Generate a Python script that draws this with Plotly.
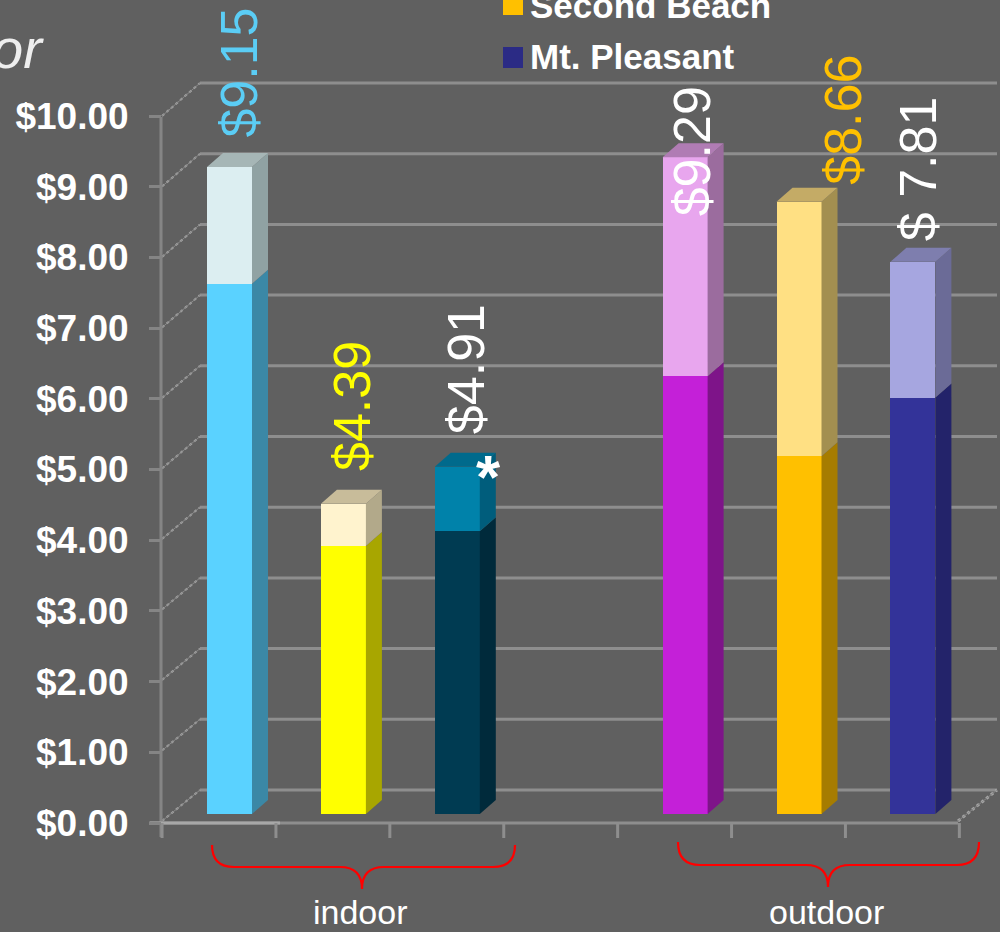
import plotly.graph_objects as go

W, H = 1000, 932

# ---------------- data ----------------
positions = [0, 1, 2, 4, 5, 6]              # category slots (slot 3 = gap between groups)
totals = [9.15, 4.39, 4.91, 9.29, 8.66, 7.81]
lower = [7.50, 3.79, 4.00, 6.19, 5.06, 5.89]
upper = [round(t - l, 2) for t, l in zip(totals, lower)]
value_labels = ["$9.15", "$4.39", "$4.91", "$9.29", "$8.66", "$ 7.81"]
tick_values = list(range(0, 11))
tick_labels = ["$%.2f" % v for v in tick_values]
legend_names = ["Second Beach", "Mt. Pleasant"]
group_labels = ["indoor", "outdoor"]

# ---------------- styles ----------------
BG = "#606060"
lower_front = ["#5AD2FF", "#FFFF00", "#003B52", "#C420D8", "#FFC000", "#333399"]
lower_side = ["#3B88A6", "#A8A600", "#002A3B", "#7E1489", "#A67C00", "#23236A"]
upper_front = ["#DCEEF1", "#FFF3CE", "#0082AA", "#E8A6EE", "#FFE083", "#A6A6E0"]
upper_side = ["#90A2A3", "#B2A98A", "#005D7C", "#9B6C9E", "#A38F50", "#6B6B97"]
top_face = ["#A6B6B6", "#C8BC9A", "#006A8C", "#B07CB4", "#C4AB66", "#7E7EAE"]
label_colors = ["#5BCDF5", "#FFFF00", "#FFFFFF", "#FFFFFF", "#FFC000", "#FFFFFF"]
label_xshift = [10, 8, 9, 7, 44, 5]
label_yshift = [27, 31, 31, -61, 15, 19]
legend_colors = ["#FFC000", "#2B2B85"]

# pixel <-> data mapping of the bar plane
PX_PER_UNIT_Y = 70.7
Y0_PX = 814.0
PX_PER_UNIT_X = 113.9
X0_PX = 229.5
y_range = [(Y0_PX - H) / PX_PER_UNIT_Y, Y0_PX / PX_PER_UNIT_Y]
x_range = [-X0_PX / PX_PER_UNIT_X, (W - X0_PX) / PX_PER_UNIT_X]
BAR_W = 45 / PX_PER_UNIT_X
DX = 16 / PX_PER_UNIT_X
DY = 14 / PX_PER_UNIT_Y
FRONT_SHIFT = 9 / PX_PER_UNIT_Y  # tick labels sit on the front plane


def px(x):
    return x / W


def py(y):
    return 1 - y / H


fig = go.Figure()

# front faces
fig.add_trace(go.Bar(x=positions, y=lower, width=BAR_W, marker=dict(color=lower_front, line=dict(width=0)),
                     showlegend=False, hoverinfo="skip"))
fig.add_trace(go.Bar(x=positions, y=upper, width=BAR_W, marker=dict(color=upper_front, line=dict(width=0)),
                     showlegend=False, hoverinfo="skip"))

# side and top faces
for i, xc in enumerate(positions):
    xr = xc + BAR_W / 2
    xl = xc - BAR_W / 2
    segs = [(0, lower[i], lower_side[i]), (lower[i], totals[i], upper_side[i])]
    for y0, y1, col in segs:
        fig.add_trace(go.Scatter(x=[xr, xr + DX, xr + DX, xr, xr], y=[y0, y0 + DY, y1 + DY, y1, y0],
                                 mode="lines", fill="toself", fillcolor=col, line=dict(width=0, color=col),
                                 showlegend=False, hoverinfo="skip"))
    t = totals[i]
    fig.add_trace(go.Scatter(x=[xl, xl + DX, xr + DX, xr, xl], y=[t, t + DY, t + DY, t, t],
                             mode="lines", fill="toself", fillcolor=top_face[i], line=dict(width=0, color=top_face[i]),
                             showlegend=False, hoverinfo="skip"))

# dummy trace for the front-plane value axis
fig.add_trace(go.Scatter(x=[None], y=[None], yaxis="y2", showlegend=False, hoverinfo="skip"))

shapes = []
GRID = "#8E8E8E"
WALL = "#A6A6A6"
# back wall gridlines and left wall diagonals
for k in tick_values:
    yb = 790 - PX_PER_UNIT_Y * k
    yf = 823 - 70.5 * k
    shapes.append(dict(type="line", xref="paper", yref="paper", x0=px(200), x1=px(997), y0=py(yb), y1=py(yb),
                       line=dict(color=GRID, width=3), layer="below"))
    shapes.append(dict(type="line", xref="paper", yref="paper", x0=px(162), x1=px(200), y0=py(yf - 2), y1=py(yb),
                       line=dict(color=WALL, width=2, dash="dot"), layer="below"))
    shapes.append(dict(type="line", xref="paper", yref="paper", x0=px(162), x1=px(200), y0=py(yf - 2), y1=py(yb),
                       line=dict(color="#8A8A8A", width=1), layer="below"))
# front vertical axis line
shapes.append(dict(type="line", xref="paper", yref="paper", x0=px(161), x1=px(161), y0=py(117), y1=py(837),
                   line=dict(color="#858585", width=3), layer="below"))
# floor front edge
shapes.append(dict(type="line", xref="paper", yref="paper", x0=px(149), x1=px(958), y0=py(823), y1=py(823),
                   line=dict(color="#8E8E8E", width=3), layer="below"))
shapes.append(dict(type="line", xref="paper", yref="paper", x0=px(150), x1=px(280), y0=py(823), y1=py(823),
                   line=dict(color="#A8A8A8", width=3), layer="below"))
# floor right edge
shapes.append(dict(type="line", xref="paper", yref="paper", x0=px(958), x1=px(997), y0=py(821), y1=py(790),
                   line=dict(color=WALL, width=3, dash="dot"), layer="below"))
shapes.append(dict(type="line", xref="paper", yref="paper", x0=px(958), x1=px(997), y0=py(821), y1=py(790),
                   line=dict(color="#8A8A8A", width=1), layer="below"))
# category tick marks on the floor edge
for j in range(8):
    xb = X0_PX + PX_PER_UNIT_X * (j - 0.5) - 10.5
    shapes.append(dict(type="line", xref="paper", yref="paper", x0=px(xb), x1=px(xb), y0=py(823), y1=py(838),
                       line=dict(color="#8E8E8E", width=3), layer="below"))


def brace(x0, x1, xc, yt, ym, yb, r=22):
    p = lambda x, y: "%.5f,%.5f" % (px(x), py(y))
    return ("M " + p(x0, yt) + " Q " + p(x0, ym) + " " + p(x0 + r, ym) + " L " + p(xc - r, ym) +
            " Q " + p(xc, ym) + " " + p(xc, yb) + " Q " + p(xc, ym) + " " + p(xc + r, ym) +
            " L " + p(x1 - r, ym) + " Q " + p(x1, ym) + " " + p(x1, yt))


shapes.append(dict(type="path", xref="paper", yref="paper", path=brace(212, 515, 362, 845, 867, 889),
                   line=dict(color="#FF0000", width=2.2)))
shapes.append(dict(type="path", xref="paper", yref="paper", path=brace(678, 979, 828, 842, 865, 887),
                   line=dict(color="#FF0000", width=2.2)))

# legend keys
legend_key_tops = [-6, 47]
for col, top in zip(legend_colors, legend_key_tops):
    shapes.append(dict(type="rect", xref="paper", yref="paper", x0=px(503), x1=px(523), y0=py(top), y1=py(top + 21),
                       fillcolor=col, line=dict(width=0)))

annotations = []
for i, xc in enumerate(positions):
    annotations.append(dict(x=xc, y=totals[i], xref="x", yref="y", text=value_labels[i], textangle=-90,
                            showarrow=False, xanchor="center", yanchor="bottom",
                            xshift=label_xshift[i], yshift=label_yshift[i],
                            font=dict(family="Liberation Sans", size=52, color=label_colors[i])))
# asterisk next to the indoor third bar
annotations.append(dict(x=positions[2], y=totals[2], xref="x", yref="y", text="*", showarrow=False,
                        xanchor="center", yanchor="middle", xshift=31, yshift=-10,
                        font=dict(family="Liberation Sans", size=62, color="white", weight="bold")))
# group labels
for lab, xcpx in zip(group_labels, [360, 826]):
    annotations.append(dict(x=px(xcpx), y=py(912), xref="paper", yref="paper", text=lab, showarrow=False,
                            xanchor="center", yanchor="middle",
                            font=dict(family="Liberation Sans", size=34, color="white")))
# legend texts
for name, cy in zip(legend_names, [5, 57]):
    annotations.append(dict(x=px(528), y=py(cy), xref="paper", yref="paper", text=name, showarrow=False,
                            xanchor="left", yanchor="middle",
                            font=dict(family="Liberation Sans", size=35, color="white", weight="bold")))
# cropped title fragment
annotations.append(dict(x=px(46), y=py(48), xref="paper", yref="paper", text="<i>or</i>", showarrow=False,
                        xanchor="right", yanchor="middle",
                        font=dict(family="Liberation Sans", size=56, color="#EEEEEE")))

fig.update_layout(
    width=W, height=H,
    margin=dict(l=0, r=0, t=0, b=0, autoexpand=False),
    paper_bgcolor=BG, plot_bgcolor=BG,
    barmode="stack", bargap=0,
    showlegend=False,
    xaxis=dict(range=x_range, visible=False, fixedrange=True),
    yaxis=dict(range=y_range, visible=False, fixedrange=True),
    yaxis2=dict(overlaying="y", anchor="free", position=0.161, side="left",
                range=[y_range[0] + FRONT_SHIFT, y_range[1] + FRONT_SHIFT],
                tickmode="array", tickvals=tick_values, ticktext=tick_labels,
                ticks="outside", ticklen=12, tickwidth=3, tickcolor="#858585",
                ticklabelstandoff=13,
                showgrid=False, zeroline=False, showline=False,
                tickfont=dict(family="Liberation Sans", size=37, color="white", weight="bold")),
    shapes=shapes,
    annotations=annotations,
)

fig.write_html("out.html")
